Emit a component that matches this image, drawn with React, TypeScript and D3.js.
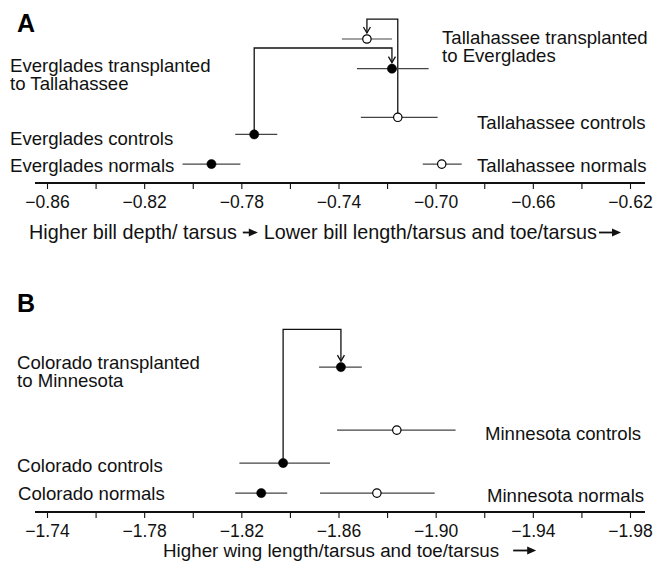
import React, { useEffect, useRef } from "react";
import * as d3 from "d3";

const W = 655;
const H = 570;
const FONT = '"Liberation Sans", Arial, Helvetica, sans-serif';

// Panel A: bill shape scores
const aGroups = [
  "Tallahassee transplanted to Everglades",
  "Everglades transplanted to Tallahassee",
  "Tallahassee controls",
  "Everglades controls",
  "Everglades normals",
  "Tallahassee normals",
];
const aMean = [-0.7283, -0.718, -0.7156, -0.7747, -0.7923, -0.6975];
const aLow = [-0.7386, -0.7324, -0.7308, -0.7825, -0.8042, -0.7053];
const aHigh = [-0.718, -0.7029, -0.6992, -0.7652, -0.7804, -0.6893];
const aFilled = [false, true, false, true, true, false];
const aLevel = [8.0, 6.35, 3.65, 2.7, 1.05, 1.05];
const aTicks = [-0.86, -0.84, -0.82, -0.8, -0.78, -0.76, -0.74, -0.72, -0.7, -0.68, -0.66, -0.64, -0.62];
const aTickLabels = [-0.86, -0.82, -0.78, -0.74, -0.7, -0.66, -0.62];
const aMoves = [
  ["Everglades controls", "Everglades transplanted to Tallahassee"],
  ["Tallahassee controls", "Tallahassee transplanted to Everglades"],
];
const aMoveLevel = [7.5, 9.1];

// Panel B: wing shape scores
const bGroups = [
  "Colorado transplanted to Minnesota",
  "Minnesota controls",
  "Colorado controls",
  "Colorado normals",
  "Minnesota normals",
];
const bMean = [-1.861, -1.884, -1.8372, -1.8282, -1.8758];
const bLow = [-1.852, -1.8594, -1.8192, -1.8175, -1.8524];
const bHigh = [-1.8696, -1.9082, -1.8565, -1.8389, -1.8996];
const bFilled = [true, false, true, true, false];
const bLevel = [8.05, 4.55, 2.72, 1.05, 1.05];
const bTicks = [-1.74, -1.76, -1.78, -1.8, -1.82, -1.84, -1.86, -1.88, -1.9, -1.92, -1.94, -1.96, -1.98];
const bTickLabels = [-1.74, -1.78, -1.82, -1.86, -1.9, -1.94, -1.98];
const bMoves = [["Colorado controls", "Colorado transplanted to Minnesota"]];
const bMoveLevel = [10.15];

type Seg = string | { gap: number; len: number; after: number };

const panels = [
  {
    letter: "A",
    letterY: 32,
    axisY: 183,
    domain: [-0.86, -0.62],
    groups: aGroups, mean: aMean, low: aLow, high: aHigh, filled: aFilled, level: aLevel,
    ticks: aTicks, tickLabels: aTickLabels, moves: aMoves, moveLevel: aMoveLevel,
    titleX: 29,
    titleY: 239,
    titleSize: 19.8,
    title: [
      "Higher bill depth/ tarsus",
      { gap: 6, len: 15, after: 6 },
      "Lower bill length/tarsus and toe/tarsus",
      { gap: 2, len: 22, after: 0 },
    ] as Seg[],
    labels: [
      { lines: ["Tallahassee transplanted", "to Everglades"], x: 442, y: 43.5 },
      { lines: ["Everglades transplanted", "to Tallahassee"], x: 10, y: 71.5 },
      { lines: ["Tallahassee controls"], x: 477, y: 128.5 },
      { lines: ["Everglades controls"], x: 10, y: 144.5 },
      { lines: ["Everglades normals"], x: 10, y: 171.5 },
      { lines: ["Tallahassee normals"], x: 477, y: 171.5 },
    ],
  },
  {
    letter: "B",
    letterY: 312,
    axisY: 512,
    domain: [-1.74, -1.98],
    groups: bGroups, mean: bMean, low: bLow, high: bHigh, filled: bFilled, level: bLevel,
    ticks: bTicks, tickLabels: bTickLabels, moves: bMoves, moveLevel: bMoveLevel,
    titleX: 163,
    titleY: 557,
    titleSize: 18.8,
    title: ["Higher wing length/tarsus and toe/tarsus", { gap: 14, len: 23, after: 0 }] as Seg[],
    labels: [
      { lines: ["Colorado transplanted", "to Minnesota"], x: 17, y: 368.5 },
      { lines: ["Minnesota controls"], x: 485, y: 439.5 },
      { lines: ["Colorado controls"], x: 17, y: 471.5 },
      { lines: ["Colorado normals"], x: 18, y: 499.5 },
      { lines: ["Minnesota normals"], x: 487, y: 501.5 },
    ],
  },
];

const App = () => {
  const ref = useRef<SVGSVGElement | null>(null);

  useEffect(() => {
    const svg = d3.select(ref.current);
    svg.selectAll("*").remove();
    const fmt = d3.format(".2f");

    panels.forEach((p) => {
      const g = svg.append("g");
      const x = d3.scaleLinear().domain(p.domain).range([47, 630]);
      const y = d3.scaleLinear().domain([0, 10]).range([p.axisY, p.axisY - 180]);

      g.append("text")
        .attr("x", 17)
        .attr("y", p.letterY)
        .attr("font-size", 25)
        .attr("font-weight", "bold")
        .attr("font-family", FONT)
        .text(p.letter);

      // axis
      const axis = d3.axisBottom(x)
        .tickValues(p.ticks)
        .tickSize(6)
        .tickSizeOuter(0)
        .tickPadding(7)
        .tickFormat((d) => (p.tickLabels.some((t) => Math.abs(t - +d) < 1e-9) ? fmt(+d) : ""));
      const ax = g.append("g").attr("transform", `translate(0,${p.axisY})`).call(axis);
      ax.select(".domain").remove();
      ax.selectAll(".tick line").attr("stroke", "#111").attr("stroke-width", 1.1);
      ax.selectAll(".tick text")
        .attr("font-size", 17.5)
        .attr("font-family", FONT)
        .attr("fill", "#111");
      g.append("line")
        .attr("x1", 35).attr("x2", 645)
        .attr("y1", p.axisY).attr("y2", p.axisY)
        .attr("stroke", "#111").attr("stroke-width", 2.2);

      // transplant brackets
      p.moves.forEach(([from, to], i) => {
        const fi = p.groups.indexOf(from);
        const ti = p.groups.indexOf(to);
        const x0 = x(p.mean[fi]);
        const x1 = x(p.mean[ti]);
        const top = y(p.moveLevel[i]);
        const tip = y(p.level[ti]) - 6;
        g.append("path")
          .attr("d", `M${x0},${y(p.level[fi])}V${top}H${x1}V${tip}`)
          .attr("fill", "none")
          .attr("stroke", "#111")
          .attr("stroke-width", 1.3);
        g.append("path")
          .attr("d", `M${x1 - 3.5},${tip - 6}L${x1},${tip}L${x1 + 3.5},${tip - 6}`)
          .attr("fill", "none")
          .attr("stroke", "#111")
          .attr("stroke-width", 1.3);
      });

      // error bars and means
      p.groups.forEach((name, i) => {
        const cy = y(p.level[i]);
        g.append("line")
          .attr("x1", x(p.low[i])).attr("x2", x(p.high[i]))
          .attr("y1", cy).attr("y2", cy)
          .attr("stroke", "#444").attr("stroke-width", 1.2);
        g.append("circle")
          .attr("cx", x(p.mean[i])).attr("cy", cy)
          .attr("r", p.filled[i] ? 4.6 : 4.2)
          .attr("fill", p.filled[i] ? "#000" : "#fff")
          .attr("stroke", "#000")
          .attr("stroke-width", p.filled[i] ? 0.5 : 1.2);
      });

      // group labels
      p.labels.forEach((l) => {
        const t = g.append("text")
          .attr("font-size", 18.6)
          .attr("font-family", FONT)
          .attr("fill", "#111");
        l.lines.forEach((line, k) => {
          t.append("tspan").attr("x", l.x).attr("y", l.y + k * 18).text(line);
        });
      });

      // axis title with arrows
      let cx = p.titleX;
      p.title.forEach((s) => {
        if (typeof s === "string") {
          const t = g.append("text")
            .attr("x", cx).attr("y", p.titleY)
            .attr("font-size", p.titleSize)
            .attr("font-family", FONT)
            .attr("fill", "#111")
            .text(s);
          cx += (t.node() as SVGTextElement).getComputedTextLength();
        } else {
          const ay = p.titleY - 6.5;
          const x0 = cx + s.gap;
          const x1 = x0 + s.len;
          g.append("line")
            .attr("x1", x0).attr("x2", x1 - 7)
            .attr("y1", ay).attr("y2", ay)
            .attr("stroke", "#111").attr("stroke-width", 1.8);
          g.append("path")
            .attr("d", `M${x1 - 9},${ay - 4}L${x1},${ay}L${x1 - 9},${ay + 4}Z`)
            .attr("fill", "#111");
          cx = x1 + s.after;
        }
      });
    });
  }, []);

  return (
    <svg
      ref={ref}
      width={W}
      height={H}
      style={{ position: "absolute", left: 0, top: 0, display: "block", background: "#fff" }}
    />
  );
};

export default App;
